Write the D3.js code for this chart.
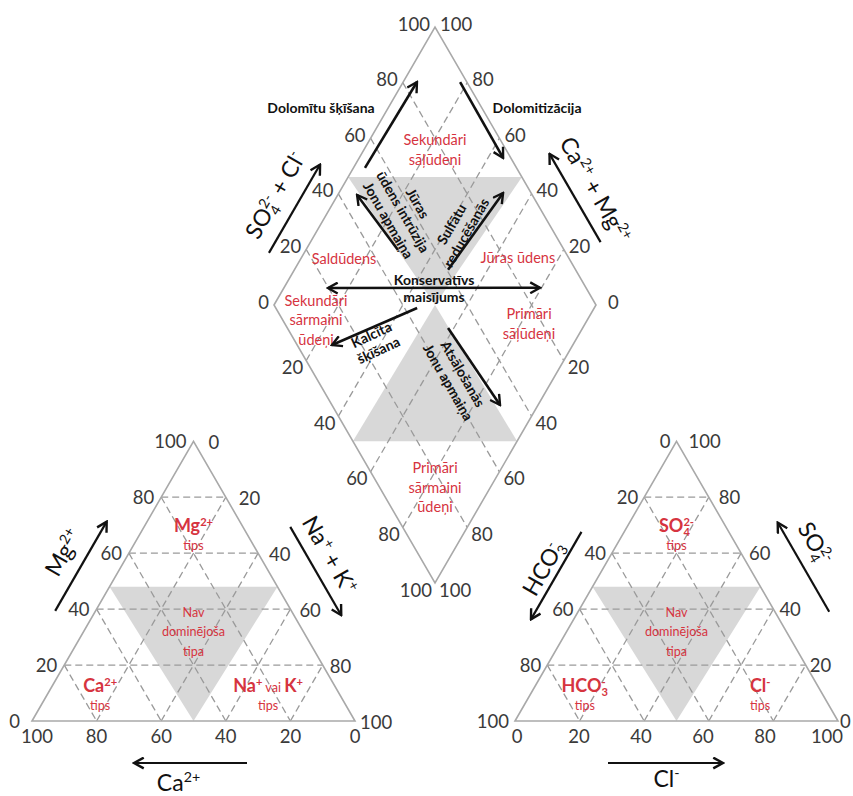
<!DOCTYPE html>
<html><head><meta charset="utf-8">
<script src="https://cdn.jsdelivr.net/npm/d3@7"></script>
<style>body{margin:0;background:#fff}svg text{white-space:pre}</style>
</head><body><svg id="c" width="853" height="796"></svg>
<script>
// ---------------- DATA ----------------
const ticks = [0, 20, 40, 60, 80, 100];
const gridLevels = [20, 40, 60, 80];
const diamondLowerTicks = [20, 40, 60, 80, 100];

// cation triangle values: [Ca, Mg, NaK] (%)
const cationShade = [[52, 48, 0], [0, 48, 52], [50, 0, 50]];
// anion triangle values: [HCO3, SO4, Cl] (%)
const anionShade = [[52, 48, 0], [0, 48, 52], [50, 0, 50]];
// diamond values: [SO4+Cl, Na+K] (%)
const diamondShadeUpper = [[46, 0], [100, 54], [50, 50]];
const diamondShadeLower = [[0, 49], [51, 100], [50, 50]];

const cationTypeLabels = [
  {at: [17, 66, 17], lines: [[["Mg", "b"], ["2+", "b sup"]], [["tips", "small"]]]},
  {at: [34, 32, 34], lines: [[["Nav", "small"]], [["dominējoša", "small"]], [["tipa", "small"]]]},
  {at: [74.5, 8.8, 16.7], lines: [[["Ca", "b"], ["2+", "b sup"]], [["tips", "small"]]]},
  {at: [22.5, 8.8, 68.7], lines: [[["Na", "b"], ["+", "b sup"], [" vai ", "small"], ["K", "b"], ["+", "b sup"]], [["tips", "small"]]]}
];
const anionTypeLabels = [
  {at: [17, 66, 17], lines: [[["SO", "b"], ["4", "b sub"], ["2-", "b stack"]], [["tips", "small"]]]},
  {at: [34, 32, 34], lines: [[["Nav", "small"]], [["dominējoša", "small"]], [["tipa", "small"]]]},
  {at: [74, 8.8, 17.2], lines: [[["HCO", "b"], ["3", "b sub"], ["-", "b stack"]], [["tips", "small"]]]},
  {at: [19.7, 8.8, 71.5], lines: [[["Cl", "b"], ["-", "b sup"]], [["tips", "small"]]]}
];

const diamondWaterLabels = [
  {at: [77.9, 22.1], lines: ["Sekundāri", "sāļūdeņi"]},
  {at: [30, 13.5], lines: ["Saldūdens"]},
  {at: [84.2, 67.3], lines: ["Jūras ūdens"]},
  {at: [10.35, 15.75], lines: ["Sekundāri", "sārmaini", "ūdeņi"]},
  {at: [75.8, 82.6], lines: ["Primāri", "sāļūdeņi"]},
  {at: [17.1, 82.9], lines: ["Primāri", "sārmaini", "ūdeņi"]}
];

const processLabels = [
  {at: [50.05, -20.85], rot: 0, lines: ["Dolomītu šķīšana"]},
  {at: [117.15, 46.25], rot: 0, lines: ["Dolomitizācija"]},
  {at: [56.8, 23.3], rot: 60, lines: ["Jūras", "ūdens intrūzija", "Jonu apmaiņa"]},
  {at: [71.2, 43.7], rot: -60, lines: ["Sulfātu", "reducēšanās"]},
  {at: [52.65, 46.75], rot: 0, lines: ["Konservatīvs", "maisījums"]},
  {at: [24.6, 38.1], rot: -25, lines: ["Kalcīta", "šķīšana"]},
  {at: [43.2, 69.5], rot: 60, lines: ["Atsāļošanās", "Jonu apmaiņa"]}
];

const processArrows = [
  {from: [52.9, 3.6], to: [84.5, 4.3], both: false},
  {from: [97.9, 17.7], to: [97.6, 44.7], both: false},
  {from: [48.4, 28.6], to: [45.6, 6.0], both: false},
  {from: [60.4, 47.7], to: [91.3, 51.0], both: false},
  {from: [19.8, 13.7], to: [85.7, 79.5], both: true},
  {from: [43.9, 45.0], to: [10.8, 25.2], both: false},
  {from: [49.9, 58.2], to: [52.2, 88.2], both: false}
];

const cationTitles = {
  mg: [["Mg"], ["2+", "sup"]],
  nak: [["Na"], ["+", "sup"], [" + "], ["K"], ["+", "sup"]],
  ca: [["Ca"], ["2+", "sup"]]
};
const anionTitles = {
  hco3: [["HCO"], ["3", "sub"], ["-", "stack"]],
  so4: [["SO"], ["4", "sub"], ["2-", "stack"]],
  cl: [["Cl"], ["-", "sup"]]
};
const diamondTitles = {
  so4cl: [["SO"], ["4", "sub"], ["2-", "stack"], [" + "], ["Cl"], ["-", "sup"]],
  camg: [["Ca"], ["2+", "sup"], [" + "], ["Mg"], ["2+", "sup"]]
};

// ---------------- DRAWING ----------------
const FONT = "Lato, 'Open Sans', 'DejaVu Sans', sans-serif";
const RED = "#d6343f";
const LINE = "#a9a9a9";
const DASH = "#9a9a9a";
const SHADE = "#d8d8d8";
const TXT = "#3a3a3a";

const svg = d3.select("#c").style("font-family", FONT);
const defs = svg.append("defs");
defs.append("marker").attr("id", "ah").attr("viewBox", "0 0 12 12")
  .attr("refX", 10.5).attr("refY", 6).attr("markerWidth", 13).attr("markerHeight", 13)
  .attr("markerUnits", "userSpaceOnUse").attr("orient", "auto-start-reverse")
  .append("path").attr("d", "M1.5,1 L10.5,6 L1.5,11").attr("fill", "none")
  .attr("stroke", "#111").attr("stroke-width", 2.2).attr("stroke-linejoin", "miter");

const SIDE = 323, HGT = SIDE * Math.sqrt(3) / 2;
const baseY = 721;

function makeTri(x0) {
  const sx = d3.scaleLinear().domain([0, 100]).range([x0, x0 + SIDE]);
  const sy = d3.scaleLinear().domain([0, 100]).range([baseY, baseY - HGT]);
  const f = v => [sx(v[2] + v[1] / 2), sy(v[1])];
  f.center = f([100 / 3, 100 / 3, 100 / 3]);
  return f;
}
const cat = makeTri(32);
const ani = makeTri(515);

const dX = d3.scaleLinear().domain([0, 200]).range([274, 596]);
const dY = d3.scaleLinear().domain([-100, 100]).range([583, 27]);
const dia = v => [dX(v[0] + v[1]), dY(v[0] - v[1])];
dia.center = dia([50, 50]);

const lineGen = d3.line();

function rich(text, parts, base) {
  let shift = 0, prevSub = null;
  parts.forEach(([t, mode = ""]) => {
    const m = mode.split(" ");
    const ts = text.append("tspan").text(t);
    let size = base, target = 0;
    if (m.includes("small")) size = base * 0.7;
    if (m.includes("sup") || m.includes("stack")) { size = base * 0.62; target = -base * 0.38; }
    if (m.includes("sub")) { size = base * 0.62; target = base * 0.2; }
    ts.attr("font-size", size).attr("font-weight", m.includes("b") ? "bold" : "normal");
    if (target !== shift) ts.attr("dy", target - shift);
    if (m.includes("stack") && prevSub) ts.attr("dx", -prevSub.node().getComputedTextLength());
    shift = target;
    prevSub = m.includes("sub") ? ts : null;
  });
}

function edgeFrame(P0, P1, center) {
  const dx = P1[0] - P0[0], dy = P1[1] - P0[1], len = Math.hypot(dx, dy);
  const u = [dx / len, dy / len];
  let n = [-u[1], u[0]];
  const mid = [(P0[0] + P1[0]) / 2, (P0[1] + P1[1]) / 2];
  if ((mid[0] - center[0]) * n[0] + (mid[1] - center[1]) * n[1] < 0) n = [-n[0], -n[1]];
  return (a, d) => [mid[0] + u[0] * a + n[0] * d, mid[1] + u[1] * a + n[1] * d];
}

function axisTitle(g, P0, P1, center, parts, o) {
  const fr = edgeFrame(P0, P1, center);
  const c = fr(o.ta, o.tn);
  const t = g.append("text").attr("transform", `translate(${c[0]},${c[1]}) rotate(${o.rot})`)
    .attr("text-anchor", "middle").attr("y", o.size * 0.35).attr("fill", "#111");
  rich(t, parts, o.size);
  let a = fr(o.aa - o.len / 2, o.an), b = fr(o.aa + o.len / 2, o.an);
  if (o.back) [a, b] = [b, a];
  g.append("path").attr("d", lineGen([a, b])).attr("stroke", "#111").attr("stroke-width", 2.2)
    .attr("fill", "none").attr("marker-end", "url(#ah)");
}

function tickLabel(g, p, label, anchor, ox, oy) {
  g.append("text").attr("x", p[0] + ox).attr("y", p[1] + oy + 6.5).attr("text-anchor", anchor)
    .attr("font-size", 18.5).attr("fill", TXT).text(label);
}

function drawTriangle(f, shade, labels) {
  const g = svg.append("g");
  g.append("path").attr("d", lineGen(shade.map(f)) + "Z").attr("fill", SHADE);
  gridLevels.forEach(v => {
    [[[100 - v, v, 0], [0, v, 100 - v]], [[v, 100 - v, 0], [v, 0, 100 - v]], [[100 - v, 0, v], [0, 100 - v, v]]]
      .forEach(seg => g.append("path").attr("d", lineGen(seg.map(f))).attr("stroke", DASH)
        .attr("stroke-width", 1.3).attr("stroke-dasharray", "7,4").attr("fill", "none"));
  });
  g.append("path").attr("d", lineGen([[100, 0, 0], [0, 100, 0], [0, 0, 100]].map(f)) + "Z")
    .attr("fill", "none").attr("stroke", LINE).attr("stroke-width", 1.6);
  labels.forEach(L => {
    const c = f(L.at);
    const n = L.lines.length, sp = n === 3 ? 19.5 : 18;
    L.lines.forEach((ln, i) => {
      const t = g.append("text").attr("x", c[0]).attr("y", c[1] + (i - (n - 1) / 2) * sp + 5)
        .attr("text-anchor", "middle").attr("fill", RED);
      rich(t, ln, 18);
    });
  });
  return g;
}

// ---- cation triangle ----
const gC = drawTriangle(cat, cationShade, cationTypeLabels);
ticks.forEach(v => {
  tickLabel(gC, cat([100 - v, v, 0]), v, "end", v === 0 ? -12 : -7, 0);
  tickLabel(gC, cat([0, 100 - v, v]), v, "start", 15 - 0.1 * v, 1);
  tickLabel(gC, cat([v, 0, 100 - v]), v, "middle", v === 100 ? 5 : 0, 15);
});
const cBL = cat([100, 0, 0]), cA = cat([0, 100, 0]), cBR = cat([0, 0, 100]);
axisTitle(gC, cBL, cA, cat.center, cationTitles.mg, {ta: 0, tn: 57, rot: -60, size: 23, aa: -3, an: 35, len: 103, back: false});
axisTitle(gC, cA, cBR, cat.center, cationTitles.nak, {ta: 5, tn: 61, rot: 60, size: 23, aa: 12, an: 41, len: 102, back: false});
axisTitle(gC, cBL, cBR, cat.center, cationTitles.ca, {ta: -15, tn: 62, rot: 0, size: 23, aa: -3, an: 42, len: 113, back: true});

// ---- anion triangle ----
const gA = drawTriangle(ani, anionShade, anionTypeLabels);
ticks.forEach(v => {
  tickLabel(gA, ani([v, 100 - v, 0]), v, "end", -6, 0);
  tickLabel(gA, ani([0, v, 100 - v]), v, "start", 2 + 0.1 * v, 0);
  tickLabel(gA, ani([100 - v, 0, v]), v, "middle", 2 - 0.13 * v, 15);
});
const aBL = ani([100, 0, 0]), aA = ani([0, 100, 0]), aBR = ani([0, 0, 100]);
axisTitle(gA, aBL, aA, ani.center, anionTitles.hco3, {ta: -15, tn: 52, rot: -60, size: 23, aa: -15, an: 37, len: 101, back: true});
axisTitle(gA, aA, aBR, ani.center, anionTitles.so4, {ta: -4, tn: 69, rot: 60, size: 23, aa: 11, an: 47, len: 103, back: true});
axisTitle(gA, aBL, aBR, ani.center, anionTitles.cl, {ta: -10, tn: 58, rot: 0, size: 23, aa: -11, an: 42, len: 115, back: false});

// ---- diamond ----
const gD = svg.append("g");
[diamondShadeUpper, diamondShadeLower].forEach(s =>
  gD.append("path").attr("d", lineGen(s.map(dia)) + "Z").attr("fill", SHADE));
gridLevels.forEach(v => {
  [[[v, 0], [v, 100]], [[0, v], [100, v]]].forEach(seg =>
    gD.append("path").attr("d", lineGen(seg.map(dia))).attr("stroke", DASH)
      .attr("stroke-width", 1.3).attr("stroke-dasharray", "7,4").attr("fill", "none"));
});
gD.append("path").attr("d", lineGen([[0, 0], [100, 0], [100, 100], [0, 100]].map(dia)) + "Z")
  .attr("fill", "none").attr("stroke", LINE).attr("stroke-width", 1.6);
ticks.forEach(v => {
  tickLabel(gD, dia([v, 0]), v, "end", -5, -3);
  tickLabel(gD, dia([100, 100 - v]), v, "start", v === 0 ? 12 : 5, -3);
});
diamondLowerTicks.forEach(v => {
  tickLabel(gD, dia([0, v]), v, "end", -3, 7);
  tickLabel(gD, dia([100 - v, 100]), v, "start", 4, 7);
});
const dL = dia([0, 0]), dT = dia([100, 0]), dR = dia([100, 100]);
axisTitle(gD, dL, dT, dia.center, diamondTitles.so4cl, {ta: -65, tn: 54, rot: -60, size: 23, aa: -67, an: 30.5, len: 102, back: false});
axisTitle(gD, dT, dR, dia.center, diamondTitles.camg, {ta: 60.5, tn: 57, rot: 60, size: 23, aa: 57.5, an: 35.5, len: 102, back: true});

diamondWaterLabels.forEach(L => {
  const c = dia(L.at), n = L.lines.length;
  L.lines.forEach((s, i) => gD.append("text").attr("x", c[0]).attr("y", c[1] + (i - (n - 1) / 2) * 19.5 + 5)
    .attr("text-anchor", "middle").attr("font-size", 14.5).attr("fill", RED).text(s));
});

processArrows.forEach(A => {
  gD.append("path").attr("d", lineGen([dia(A.from), dia(A.to)])).attr("stroke", "#111")
    .attr("stroke-width", 2.6).attr("fill", "none").attr("marker-end", "url(#ah)")
    .attr("marker-start", A.both ? "url(#ah)" : null);
});
processLabels.forEach(L => {
  const c = dia(L.at), n = L.lines.length;
  const g = gD.append("g").attr("transform", `translate(${c[0]},${c[1]}) rotate(${L.rot})`);
  L.lines.forEach((s, i) => g.append("text").attr("x", 0).attr("y", (i - (n - 1) / 2) * 17 + 5)
    .attr("text-anchor", "middle").attr("font-size", 14).attr("font-weight", "bold")
    .attr("fill", "#111").text(s));
});
</script></body></html>
